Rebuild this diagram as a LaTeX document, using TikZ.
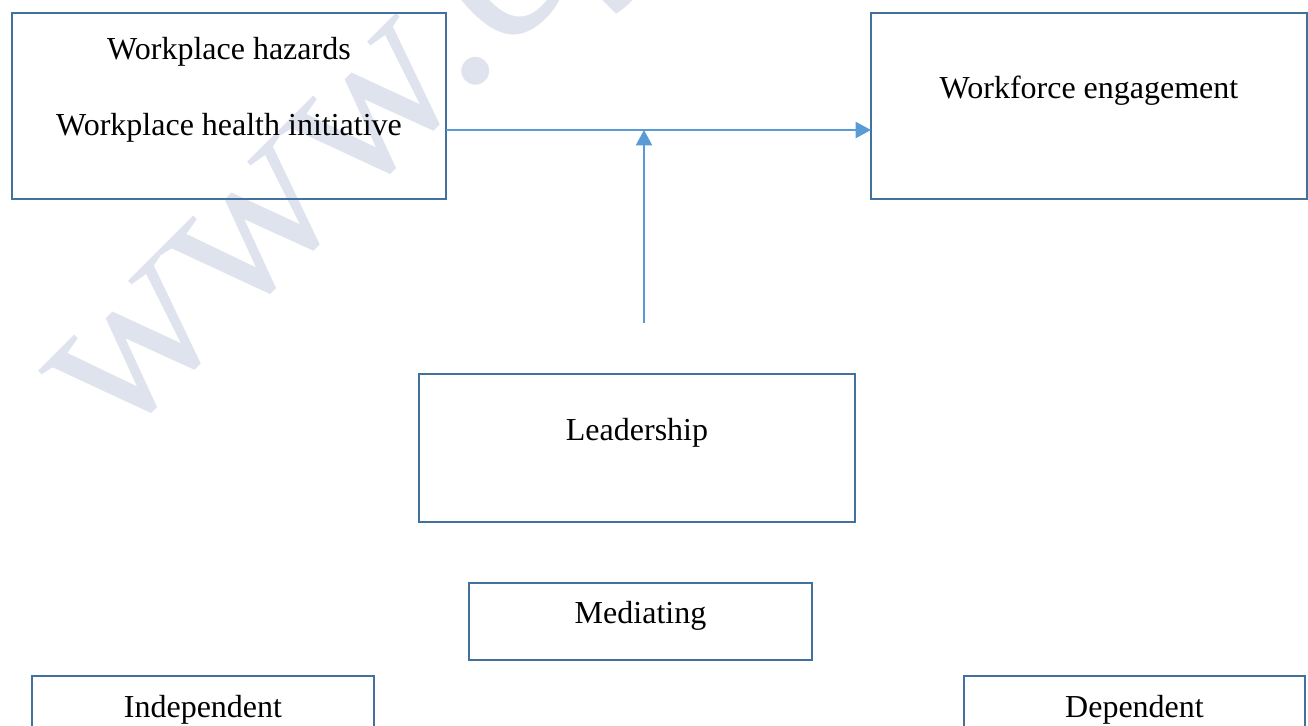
\documentclass[tikz,border=0pt]{standalone}
\usepackage{fontspec}
\setmainfont{Liberation Serif}
\usetikzlibrary{arrows.meta}
\definecolor{boxblue}{HTML}{41719C}
\definecolor{arrblue}{HTML}{5B9BD5}
\definecolor{wmgray}{HTML}{DEE3ED}
\begin{document}
\begin{tikzpicture}[x=0.75pt,y=-0.75pt,
  box/.style={draw=boxblue,line width=1.5pt,inner sep=0pt,outer sep=0pt,rectangle},
  lbl/.style={anchor=base,inner sep=0pt,font=\fontsize{24}{29}\selectfont},
  arr/.style={draw=arrblue,line width=1.6pt,-{Triangle[length=11.5pt,width=12pt]}},
  wmark/.style={rotate=45,anchor=base west,inner sep=0pt,text=wmgray,font=\fontsize{176}{176}\selectfont}]
\useasboundingbox (0,0) rectangle (1308,725);
\fill[white] (0,0) rectangle (1308,725);
\clip (0,0) rectangle (1308,725);
% watermark
\node[wmark] (wm) at (114,448) {www.ey};
% boxes
\node[box,minimum width=434*0.75pt,minimum height=186*0.75pt] (A) at (229,106) {};
\node[box,minimum width=436*0.75pt,minimum height=186*0.75pt] (B) at (1089,106) {};
\node[box,minimum width=436*0.75pt,minimum height=148*0.75pt] (L) at (637,448) {};
\node[box,minimum width=343*0.75pt,minimum height=77*0.75pt] (M) at (640.5,621.5) {};
\node[box,minimum width=342*0.75pt,minimum height=100*0.75pt] (I) at (203,726) {};
\node[box,minimum width=341*0.75pt,minimum height=100*0.75pt] (D) at (1134.5,726) {};
% texts
\node[lbl] (t1) at (229,59) {Workplace hazards};
\node[lbl] (t2) at (229,135) {Workplace health initiative};
\node[lbl] (t3) at (1089,98) {Workforce engagement};
\node[lbl] (t4) at (637,440) {Leadership};
\node[lbl] (t5) at (640.5,623) {Mediating};
\node[lbl] (t6) at (203,717) {Independent};
\node[lbl] (t7) at (1134.5,717) {Dependent};
% connectors
\coordinate (m) at (644,323);
\coordinate (j) at (644,130);
\draw[arr] ([yshift=-18pt]A.east) -- ([yshift=-18pt]B.west);
\draw[arr] (m) -- (j);
\end{tikzpicture}
\end{document}
